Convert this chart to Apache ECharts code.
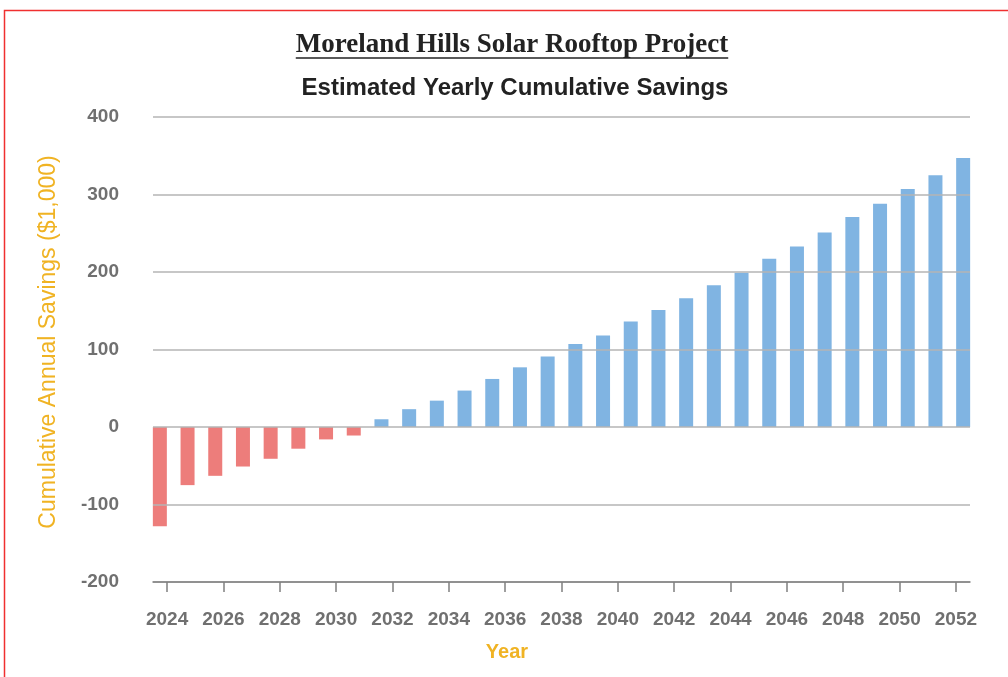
<!DOCTYPE html>
<html>
<head>
<meta charset="utf-8">
<title>Moreland Hills Solar Rooftop Project</title>
<script src="https://cdn.jsdelivr.net/npm/echarts@6/dist/echarts.min.js"></script>
<style>
  html, body { margin: 0; padding: 0; background: #fff; }
  #chart { width: 1008px; height: 677px; }
</style>
</head>
<body>
<div id="chart"></div>
<script>
// one bar per year
const years = ['2024', '2025', '2026', '2027', '2028', '2029', '2030', '2031', '2032', '2033',
  '2034', '2035', '2036', '2037', '2038', '2039', '2040', '2041', '2042', '2043',
  '2044', '2045', '2046', '2047', '2048', '2049', '2050', '2051', '2052', '2053']
// cumulative savings in $1,000
const savings = [-128, -75, -63, -51, -41, -28, -16, -11, 10, 23,
  34, 47, 62, 77, 91, 107, 118, 136, 151, 166,
  183, 199, 217, 233, 251, 271, 288, 307, 325, 347]
// labels printed under the axis (every other one is shown)
const tickYears = ['2024', '2025', '2026', '2027', '2028', '2029', '2030', '2031', '2032', '2033',
  '2034', '2035', '2036', '2037', '2038', '2039', '2040', '2041', '2042', '2043',
  '2044', '2045', '2046', '2047', '2048', '2049', '2050', '2051', '2052']

const titleText = 'Moreland Hills Solar Rooftop Project'
const subtitleText = 'Estimated Yearly Cumulative Savings'
const yName = 'Cumulative Annual Savings ($1,000)'
const xName = 'Year'

const RED = '#ED7D7B'
const BLUE = '#80B4E2'
const GOLD = '#F0B323'
const LABEL_GRAY = '#707070'

const titleFont = 'bold 27px "Liberation Serif"'

// width of the title, for the underline
const ctx = document.createElement('canvas').getContext('2d')
ctx.font = titleFont
const titleWidth = ctx.measureText(titleText).width

const myChart = echarts.init(document.getElementById('chart'))

const yRange = { min: -200, max: 400, interval: 100 }

const option = {
  animation: false,
  grid: [
    // axis, labels and gridlines
    { left: 153, right: 38, top: 117, bottom: 95 },
    // bars
    { left: 146, right: 31, top: 117, bottom: 95 }
  ],
  xAxis: [
    {
      gridIndex: 0,
      type: 'category',
      data: tickYears,
      boundaryGap: true,
      z: 6,
      axisLine: { show: true, onZero: false, lineStyle: { color: '#808080', width: 1.5 } },
      axisTick: {
        show: true,
        inside: false,
        alignWithLabel: true,
        interval: 1,
        length: 10,
        lineStyle: { color: '#808080', width: 1.5 }
      },
      axisLabel: {
        interval: 1,
        margin: 28,
        color: LABEL_GRAY,
        fontFamily: 'Liberation Sans',
        fontWeight: 'bold',
        fontSize: 19
      }
    },
    {
      gridIndex: 1,
      type: 'category',
      data: years,
      boundaryGap: true,
      show: false
    }
  ],
  yAxis: [
    {
      gridIndex: 0,
      type: 'value',
      ...yRange,
      z: 5,
      axisLine: { show: false },
      axisTick: { show: false },
      axisLabel: {
        margin: 34,
        color: LABEL_GRAY,
        fontFamily: 'Liberation Sans',
        fontWeight: 'bold',
        fontSize: 19
      },
      splitLine: { lineStyle: { color: '#b4b4b4', width: 1.5 } }
    },
    {
      gridIndex: 1,
      type: 'value',
      ...yRange,
      show: false,
      splitLine: { show: false }
    }
  ],
  series: [
    {
      type: 'bar',
      xAxisIndex: 1,
      yAxisIndex: 1,
      data: savings,
      barWidth: 14,
      z: 2,
      itemStyle: {
        color: (p) => (p.value < 0 ? RED : BLUE)
      }
    }
  ],
  graphic: [
    // frame
    {
      type: 'rect',
      shape: { x: 4.5, y: 10.5, width: 1100, height: 1000 },
      style: { fill: 'none', stroke: '#F03030', lineWidth: 1.5 },
      silent: true
    },
    {
      type: 'text',
      x: 512,
      y: 45,
      style: {
        text: titleText,
        font: titleFont,
        fill: '#222',
        align: 'center',
        verticalAlign: 'middle'
      }
    },
    {
      type: 'line',
      shape: { x1: 512 - titleWidth / 2, y1: 58, x2: 512 + titleWidth / 2, y2: 58 },
      style: { stroke: '#222', lineWidth: 1.5 }
    },
    {
      type: 'text',
      x: 515,
      y: 88,
      style: {
        text: subtitleText,
        font: 'bold 24px "Liberation Sans"',
        fill: '#222',
        align: 'center',
        verticalAlign: 'middle'
      }
    },
    {
      type: 'text',
      x: 49,
      y: 342,
      rotation: Math.PI / 2,
      style: {
        text: yName,
        font: '23px "Liberation Sans"',
        fill: GOLD,
        align: 'center',
        verticalAlign: 'middle'
      }
    },
    {
      type: 'text',
      x: 507,
      y: 652,
      style: {
        text: xName,
        font: 'bold 20px "Liberation Sans"',
        fill: GOLD,
        align: 'center',
        verticalAlign: 'middle'
      }
    }
  ]
}

myChart.setOption(option)
window.addEventListener('resize', () => myChart.resize())
</script>
</body>
</html>
